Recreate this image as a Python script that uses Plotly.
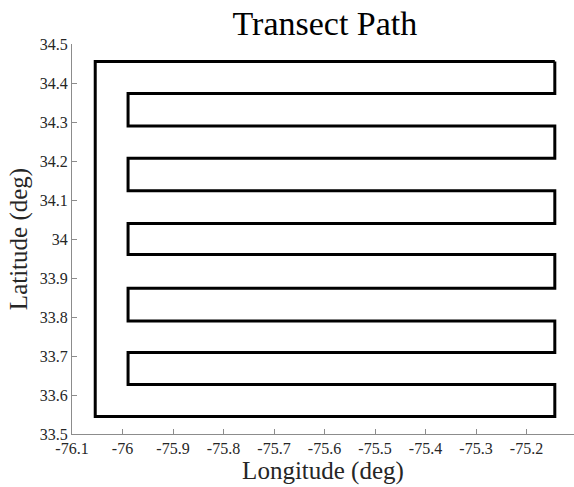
import plotly.graph_objects as go

# Path vertices (longitude, latitude)
lon_right = -75.144
lon_left_outer = -76.054
lon_left_inner = -75.989
lat_levels = [33.545, 33.627, 33.709, 33.790, 33.874, 33.960,
              34.040, 34.124, 34.207, 34.290, 34.373, 34.455]

x_ticks = [-76.1, -76.0, -75.9, -75.8, -75.7, -75.6, -75.5, -75.4, -75.3, -75.2]
x_tick_text = ["-76.1", "-76", "-75.9", "-75.8", "-75.7", "-75.6", "-75.5", "-75.4", "-75.3", "-75.2"]
y_ticks = [33.5, 33.6, 33.7, 33.8, 33.9, 34.0, 34.1, 34.2, 34.3, 34.4, 34.5]
y_tick_text = ["33.5", "33.6", "33.7", "33.8", "33.9", "34", "34.1", "34.2", "34.3", "34.4", "34.5"]

# Build the serpentine path
lon = [lon_right, lon_left_outer, lon_left_outer, lon_right]
lat = [lat_levels[-1], lat_levels[-1], lat_levels[0], lat_levels[0]]
side = "right"
for i in range(1, len(lat_levels)):
    lat.append(lat_levels[i])
    lon.append(lon[-1])
    if i < len(lat_levels) - 1:
        nxt = lon_left_inner if side == "right" else lon_right
        side = "left" if side == "right" else "right"
        lat.append(lat_levels[i])
        lon.append(nxt)

font_family = "Liberation Serif"

fig = go.Figure()
fig.add_trace(go.Scatter(x=lon, y=lat, mode="lines",
                         line=dict(color="black", width=3), showlegend=False))

axis_common = dict(
    showgrid=False, zeroline=False, showline=True, linecolor="#8c8c8c", linewidth=1,
    ticks="inside", ticklen=5, tickcolor="#8c8c8c", automargin=False,
    tickfont=dict(family="Liberation Serif", size=16, color="#262626"),
)

fig.update_layout(
    width=574, height=487,
    margin=dict(l=72, r=0, t=44, b=53),
    paper_bgcolor="white", plot_bgcolor="white",
    font=dict(family=font_family, size=16, color="#262626"),
    title=dict(text="Transect Path", x=0.566, xanchor="center",
               y=0.953, yanchor="middle", yref="container",
               font=dict(family=font_family, size=34, color="black")),
    xaxis=dict(range=[-76.1, -75.106], tickmode="array", tickvals=x_ticks, ticktext=x_tick_text,
               title=dict(text="Longitude (deg)", standoff=4,
                          font=dict(family=font_family, size=25, color="#262626")),
               **axis_common),
    yaxis=dict(range=[33.5, 34.5], tickmode="array", tickvals=y_ticks, ticktext=y_tick_text,
               title=dict(text="Latitude (deg)", standoff=5,
                          font=dict(family=font_family, size=25, color="#262626")),
               **axis_common),
)

fig.write_html("out.html")
